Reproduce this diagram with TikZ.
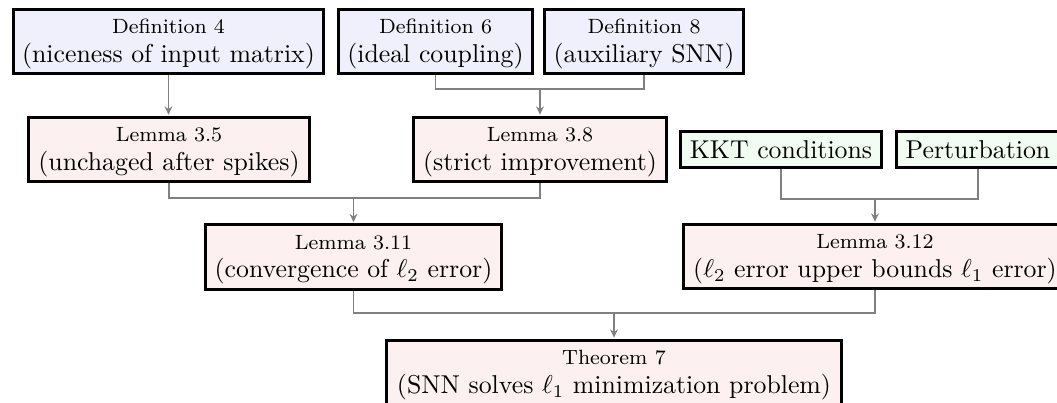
\documentclass[tikz,border=0pt]{standalone}
\usetikzlibrary{arrows.meta,calc}

\definecolor{defblue}{RGB}{240,240,252}
\definecolor{lemmapink}{RGB}{253,240,240}
\definecolor{toolgreen}{RGB}{240,253,240}
\definecolor{linkgray}{RGB}{128,128,128}

\tikzset{
  card/.style={draw=black, line width=1.2pt, align=center, inner sep=2pt},
  defcard/.style={card, fill=defblue},
  lemcard/.style={card, fill=lemmapink},
  toolcard/.style={card, fill=toolgreen},
  wd/.style={minimum width={#1*0.3876pt}},
  ht/.style={minimum height={#1*0.3876pt}},
  link/.style={draw=linkgray, line width=0.6pt},
  linkarrow/.style={link, -{Stealth[length=3.2pt,width=3pt]}, shorten >=0.4pt},
}

% small heading line above the description of each card
\newcommand{\tag}[1]{{\footnotesize\rule{0pt}{7.5pt}#1}\\[-1pt]}

\begin{document}
\begin{tikzpicture}[x=0.3876pt, y=-0.3876pt]
  \clip (0,0) rectangle (1057,403);
  \useasboundingbox (0,0) rectangle (1057,403);

  % definitions
  \node[defcard, wd=310, ht=62] (def4) at (168.5,41.5)
    {\tag{Definition 4}(niceness of input matrix)};
  \node[defcard, wd=194, ht=62] (def6) at (435.5,41.5)
    {\tag{Definition 6}(ideal coupling)};
  \node[defcard, wd=199, ht=62] (def8) at (644,41.5)
    {\tag{Definition 8}(auxiliary SNN)};

  % first lemmas and tools
  \node[lemcard, wd=281, ht=62] (l35) at (169,149.5)
    {\tag{Lemma 3.5}(unchaged after spikes)};
  \node[lemcard, wd=253, ht=62] (l38) at (540,149.5)
    {\tag{Lemma 3.8}(strict improvement)};
  \node[toolcard, wd=201, ht=36] (kkt) at (781,149.5) {KKT conditions};
  \node[toolcard, wd=163, ht=36] (pert) at (978,149.5) {Perturbation};

  % second lemmas
  \node[lemcard, wd=296, ht=63] (l311) at (353.5,257)
    {\tag{Lemma 3.11}(convergence of $\ell_2$ error)};
  \node[lemcard, wd=383, ht=62] (l312) at (875,256.5)
    {\tag{Lemma 3.12}($\ell_2$ error upper bounds $\ell_1$ error)};

  % theorem
  \node[lemcard, wd=455, ht=62] (thm) at (614,372.5)
    {\tag{Theorem 7}(SNN solves $\ell_1$ minimization problem)};

  % junctions
  \coordinate (j1) at (l38.north |- 0,89);
  \coordinate (j2) at (l311.north |- 0,198);
  \coordinate (j3) at (l312.north |- 0,199);
  \coordinate (j4) at (thm.north |- 0,313);

  % connectors
  \draw[linkarrow] (def4.south) -- (def4.south |- l35.north);

  \draw[link] (def6.south) |- (j1) -| (def8.south);
  \draw[linkarrow] (j1) -- (l38.north);

  \draw[link] (l35.south) |- (j2) -| (l38.south);
  \draw[linkarrow] (j2) -- (l311.north);

  \draw[link] (kkt.south) |- (j3) -| (pert.south);
  \draw[linkarrow] (j3) -- (l312.north);

  \draw[link] (l311.south) |- (j4) -| (l312.south);
  \draw[linkarrow] (j4) -- (thm.north);
\end{tikzpicture}
\end{document}
